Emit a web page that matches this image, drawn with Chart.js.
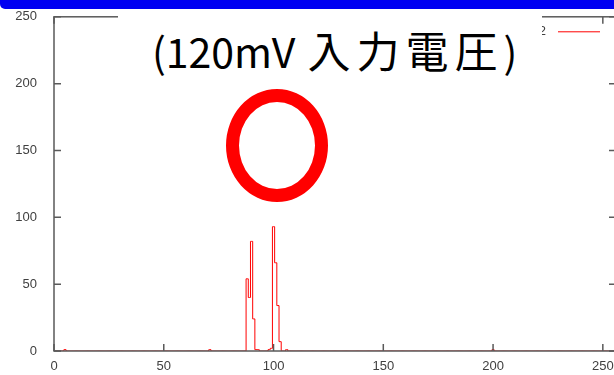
<!DOCTYPE html>
<html>
<head>
<meta charset="utf-8">
<script src="https://cdn.jsdelivr.net/npm/chart.js@4/dist/chart.umd.min.js"></script>
<style>
  html, body { margin: 0; padding: 0; background: #fff; overflow: hidden; width: 614px; height: 375px; }
  #wrap { position: absolute; left: 0; top: 0; width: 630px; height: 375px; }
  #band { position: absolute; left: 0; top: -12px; width: 640px; height: 21px; background: #0000f2;
          border-radius: 0 0 0 5px; z-index: 3; }
  #caption { position: absolute; left: 118px; top: 9px; width: 424px; height: 77px; background: #fff;
             z-index: 2; }
  #caption .line { position: absolute; left: 34px; top: 19px; white-space: nowrap; color: #000;
                   font-family: "Noto Sans CJK JP", sans-serif; font-size: 41px; line-height: 1; }
  #caption .jp { font-size: 43px; letter-spacing: 6px; margin-left: 3px; }
  #ring { position: absolute; left: 226px; top: 89px; width: 76px; height: 87px;
          border: 13px solid #ff0000; border-radius: 50%; z-index: 2; }
</style>
</head>
<body>
<div id="wrap"><canvas id="c" width="630" height="375"></canvas></div>
<div id="band"></div>
<div id="caption"><span class="line">(120mV <span class="jp">入力電圧</span>)</span></div>
<div id="ring"></div>
<script>
// Pulse-height histogram: counts per ADC channel (channels not listed are empty)
const channels = [5, 71, 88, 89, 90, 91, 92, 93, 98, 99, 100, 101, 102, 103, 106, 200];
const counts   = [1, 1, 54, 40, 82, 24, 1, 1, 1, 2, 93, 66, 34, 7, 1, 1];
const seriesLabel = 'ch2';
const xTicks = [0, 50, 100, 150, 200, 250];
const yTicks = [0, 50, 100, 150, 200, 250];

const points = [];
for (let ch = 0; ch <= 255; ch++) {
  const i = channels.indexOf(ch);
  points.push({ x: ch, y: i < 0 ? 0 : counts[i] });
}

const frameColor = '#5a5a5a';
const tickLen = 7;

// gnuplot-style border with inward tick marks on all four sides
const framePlugin = {
  id: 'frame',
  afterDatasetsDraw(chart) {
    const { ctx, chartArea: a, scales: { x, y } } = chart;
    ctx.save();
    ctx.strokeStyle = frameColor;
    ctx.lineWidth = 1.5;
    ctx.strokeRect(a.left, a.top, a.right - a.left, a.bottom - a.top);
    ctx.beginPath();
    x.ticks.forEach(t => {
      const px = x.getPixelForValue(t.value);
      ctx.moveTo(px, a.bottom); ctx.lineTo(px, a.bottom - tickLen);
      ctx.moveTo(px, a.top); ctx.lineTo(px, a.top + tickLen);
    });
    y.ticks.forEach(t => {
      const py = y.getPixelForValue(t.value);
      ctx.moveTo(a.left, py); ctx.lineTo(a.left + tickLen, py);
      ctx.moveTo(a.right, py); ctx.lineTo(a.right - tickLen, py);
    });
    ctx.stroke();
    ctx.restore();
  }
};

// key in the upper right corner: label followed by a line sample
const keyPlugin = {
  id: 'key',
  afterDatasetsDraw(chart) {
    const { ctx, chartArea: a } = chart;
    const ds = chart.data.datasets[0];
    const yk = a.top + 15;
    ctx.save();
    ctx.font = '13px "Liberation Sans"';
    ctx.fillStyle = '#404040';
    ctx.textAlign = 'right';
    ctx.textBaseline = 'middle';
    ctx.fillText(ds.label, a.right - 70, yk);
    ctx.strokeStyle = ds.borderColor;
    ctx.lineWidth = 1;
    ctx.beginPath();
    ctx.moveTo(a.right - 58, yk); ctx.lineTo(a.right - 16, yk);
    ctx.stroke();
    ctx.restore();
  }
};

const tickFont = { family: 'Liberation Sans', size: 13 };

new Chart(document.getElementById('c'), {
  type: 'line',
  data: {
    datasets: [{
      label: seriesLabel,
      data: points,
      borderColor: '#ff0000',
      borderWidth: 1,
      pointRadius: 0,
      stepped: 'middle',
      fill: false
    }]
  },
  options: {
    responsive: false,
    animation: false,
    layout: { padding: { top: 14, right: 14, left: 0, bottom: 0 } },
    plugins: { legend: { display: false }, tooltip: { enabled: false } },
    scales: {
      x: {
        type: 'linear', min: 0, max: 256,
        grid: { display: false }, border: { display: false },
        afterBuildTicks: s => { s.ticks = xTicks.map(v => ({ value: v })); },
        ticks: { color: '#404040', font: tickFont, padding: 0, maxRotation: 0, autoSkip: false },
        afterFit: s => { s.height = 24; }
      },
      y: {
        min: 0, max: 250,
        grid: { display: false }, border: { display: false },
        afterBuildTicks: s => { s.ticks = yTicks.map(v => ({ value: v })); },
        ticks: { color: '#404040', font: tickFont, padding: 9 },
        afterFit: s => { s.width = 54; }
      }
    }
  },
  plugins: [framePlugin, keyPlugin]
});
</script>
</body>
</html>
